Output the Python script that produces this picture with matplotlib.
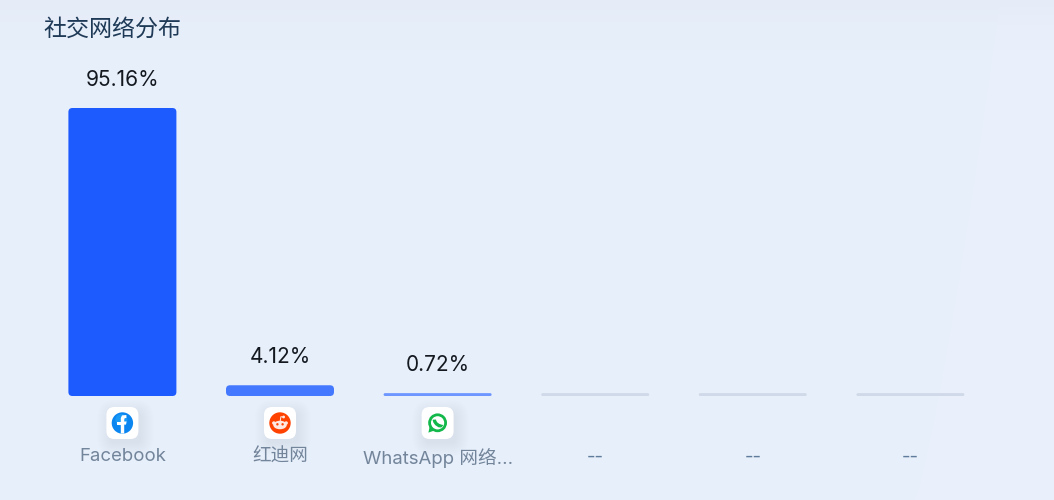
import numpy as np
import matplotlib
matplotlib.use("Agg")
import matplotlib.pyplot as plt
from matplotlib.patches import FancyBboxPatch, Circle, Ellipse, Polygon, PathPatch
from matplotlib.path import Path

plt.rcParams['font.family'] = ['Inter', 'Noto Sans CJK SC', 'DejaVu Sans']

title = "社交网络分布"
categories = ["Facebook", "红迪网", "WhatsApp 网络...", "--", "--", "--"]
value_labels = ["95.16%", "4.12%", "0.72%", "", "", ""]
# bar heights, the empty ones still get a thin stub
bar_heights = [95.16, 3.55, 0.95, 0.95, 0.95, 0.95]
bar_colors = ["#1E5BFF", "#4479FF", "#6E96FF", "#D0D9E8", "#D0D9E8", "#D0D9E8"]
label_colors = ["#73859B", "#73859B", "#73859B", "#5F7C9C", "#5F7C9C", "#5F7C9C"]

W, H = 1054, 500
fig = plt.figure(figsize=(W / 100, H / 100), dpi=100)

# page background: pale blue, soft darker strip on top, lighter wedge on the right
yy, xx = np.mgrid[0:H, 0:W]
bg = np.zeros((H, W, 3))
edge = 914 + 86 * ((H - yy) / H) ** 0.8
bg[xx < edge] = [231, 239, 250.5]
bg[xx >= edge] = [233, 240, 251]
top = (np.clip(1 - yy / 50, 0, 1) ** 2)[..., None]
bg = bg * (1 - top) + np.array([229, 236, 247]) * top
fig.figimage(bg / 255, 0, 0, zorder=-1, origin='upper')

# bars axes: baseline sits at y=396px, top of the figure is the top of the axes
x_step = 157.6
ax = fig.add_axes([(122.4 - x_step / 2) / W, (H - 396) / H, 6 * x_step / W, 396 / H])
ax.patch.set_alpha(0)
px_per_unit = 288 / 95.16
ax.set_xlim(-0.5, 5.5)
ax.set_ylim(0, 396 / px_per_unit)
for s in ax.spines.values():
    s.set_visible(False)
ax.set_yticks([])
ax.set_xticks(range(6))
ax.set_xticklabels(categories, fontsize=13.4)
for t, c in zip(ax.get_xticklabels(), label_colors):
    t.set_color(c)
ax.tick_params(axis='x', length=0, pad=37.6)

bar_w = 108 / x_step
aspect = x_step / px_per_unit
for i, (h, c) in enumerate(zip(bar_heights, bar_colors)):
    r = min(4, h * px_per_unit / 2) / x_step
    ax.add_patch(FancyBboxPatch((i - bar_w / 2 + r, r * aspect), bar_w - 2 * r, h - 2 * r * aspect,
                                boxstyle="round,pad=%f,rounding_size=%f" % (r, r),
                                mutation_aspect=aspect, fc=c, ec='none'))
    if value_labels[i]:
        ax.annotate(value_labels[i], (i, h), xytext=(0, 20), textcoords='offset points',
                    ha='center', va='center', fontsize=15, color="#14181F")

fig.text(43.5 / W, 1 - 30 / H, title, fontsize=16.6, color="#1F3A57", ha='left', va='center')

# icons are drawn in a pixel overlay, centred under the bars
ov = fig.add_axes([0, 0, 1, 1])
ov.set_xlim(0, W)
ov.set_ylim(H, 0)
ov.axis('off')
ov.patch.set_alpha(0)


def icon_base(cx, cy):
    # soft shadow, stacked see-through rounded squares
    for k in range(14):
        grow = 12 - k
        ov.add_patch(FancyBboxPatch((cx - 12 - grow + 3, cy - 12 - grow + 5), 24 + 2 * grow, 24 + 2 * grow,
                                    boxstyle="round,pad=4,rounding_size=%f" % (6 + grow), fc="#8795B5", ec='none', alpha=0.008))
    ov.add_patch(FancyBboxPatch((cx - 13, cy - 13), 26, 26, boxstyle="round,pad=3,rounding_size=8", fc='white', ec='none'))


def facebook(cx, cy):
    ov.add_patch(Circle((cx, cy), 10.7, fc="#0B86F0", ec='none'))
    ov.add_patch(Circle((cx - 1, cy - 3), 6, fc="#22A6FB", ec='none', alpha=0.6))
    ov.add_patch(Polygon([(cx - 1.6, cy + 10.5), (cx - 1.6, cy - 5), (cx - 0.4, cy - 7.6), (cx + 4, cy - 8),
                          (cx + 4, cy - 5), (cx + 2.2, cy - 4.8), (cx + 1.8, cy - 3), (cx + 1.8, cy - 1.5),
                          (cx + 4.2, cy - 1.5), (cx + 3.6, cy + 1.6), (cx + 1.8, cy + 1.6), (cx + 1.8, cy + 10.5)],
                         fc='white', ec='none'))
    ov.add_patch(Polygon([(cx - 5, cy - 1.5), (cx - 1, cy - 1.5), (cx - 1, cy + 1.6), (cx - 5, cy + 1.6)],
                         fc='white', ec='none'))


def reddit(cx, cy):
    ov.add_patch(Circle((cx, cy), 10.7, fc="#FF4200", ec='none'))
    ov.add_patch(Ellipse((cx, cy + 2), 13.5, 8.5, fc='#FFE9E2', ec='none'))
    ov.add_patch(Circle((cx - 6.2, cy), 1.7, fc='#FFE9E2', ec='none'))
    ov.add_patch(Circle((cx + 6.2, cy), 1.7, fc='#FFE9E2', ec='none'))
    ov.add_patch(Circle((cx + 3.6, cy - 6), 1.4, fc='#FFE9E2', ec='none'))
    ov.plot([cx + 0.2, cx + 0.9, cx + 3.6], [cy - 2, cy - 6.3, cy - 6], color='#FFE9E2', lw=0.7)
    ov.add_patch(Circle((cx - 2.6, cy + 1.3), 1.2, fc='#FF4200', ec='none'))
    ov.add_patch(Circle((cx + 2.6, cy + 1.3), 1.2, fc='#FF4200', ec='none'))


def whatsapp(cx, cy):
    ov.add_patch(Circle((cx, cy - 0.2), 9.4, fc="#12B84A", ec='none'))
    ov.add_patch(Polygon([(cx - 9.2, cy + 9.6), (cx - 7.8, cy + 3), (cx - 3, cy + 7.5)], fc="#12B84A", ec='none'))
    ov.add_patch(Circle((cx, cy - 0.2), 6.6, fc='white', ec='none'))
    verts = [(cx - 3.2, cy - 3.4), (cx - 3.4, cy + 0.6), (cx + 3.4, cy + 5), (cx + 3.8, cy + 1.6)]
    codes = [Path.MOVETO, Path.CURVE4, Path.CURVE4, Path.CURVE4]
    ov.add_patch(PathPatch(Path(verts, codes), fc='none', ec="#12B84A", lw=2.4))


icon_funcs = [facebook, reddit, whatsapp]
for i, draw in enumerate(icon_funcs):
    cx = fig.transFigure.inverted().transform(ax.transData.transform((i, 0)))[0] * W
    icon_base(cx, 423)
    draw(cx, 423)

fig.savefig("out.png", dpi=100)
